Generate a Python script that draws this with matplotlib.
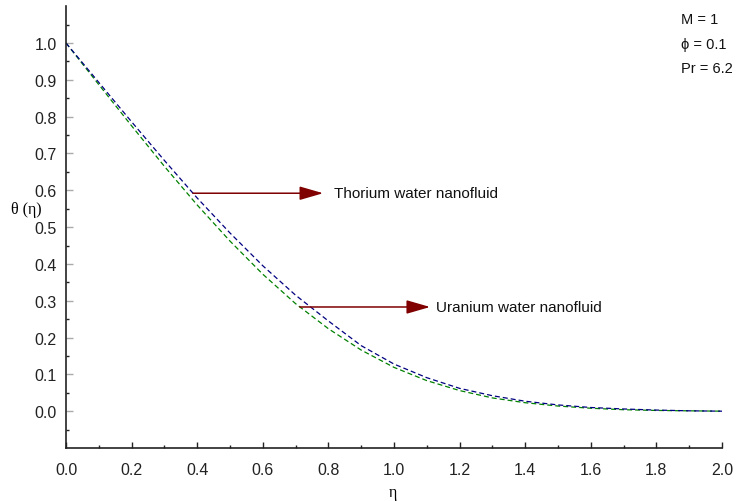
import matplotlib
matplotlib.use("Agg")
import matplotlib.pyplot as plt
from matplotlib.ticker import MultipleLocator, FixedLocator

plt.rcParams['font.family'] = ['Liberation Sans', 'DejaVu Sans']

eta = [0.0, 0.1, 0.2, 0.3, 0.4, 0.5, 0.6, 0.7, 0.8, 0.9, 1.0,
       1.1, 1.2, 1.3, 1.4, 1.5, 1.6, 1.7, 1.8, 1.9, 2.0]
theta_thorium = [1.000, 0.893, 0.786, 0.681, 0.579, 0.484, 0.395, 0.315, 0.245, 0.178, 0.128,
                 0.091, 0.062, 0.042, 0.027, 0.017, 0.010, 0.006, 0.003, 0.001, 0.000]
theta_uranium = [1.000, 0.887, 0.775, 0.665, 0.560, 0.462, 0.372, 0.292, 0.224, 0.166, 0.119,
                 0.083, 0.056, 0.036, 0.023, 0.014, 0.008, 0.004, 0.002, 0.001, 0.000]
xticks = [0.0, 0.2, 0.4, 0.6, 0.8, 1.0, 1.2, 1.4, 1.6, 1.8, 2.0]
yticks = [0.0, 0.1, 0.2, 0.3, 0.4, 0.5, 0.6, 0.7, 0.8, 0.9, 1.0]
labels = ["Thorium water nanofluid", "Uranium water nanofluid"]
params = ["M = 1", "\u03d5 = 0.1", "Pr = 6.2"]

W, H = 737, 502
fig = plt.figure(figsize=(W / 100, H / 100), dpi=100)
ax = fig.add_axes([66 / W, 1 - 449 / H, (722 - 66) / W, (449 - 7.2) / H])

ax.plot(eta, theta_uranium, color="#008000", lw=0.9, dashes=(4, 2.4))
ax.plot(eta, theta_thorium, color="#000080", lw=0.9, dashes=(4, 2.4))

ax.set_xlim(0, 2.0)
ax.set_ylim(-0.1, 1.1)

for s in ["top", "right"]:
    ax.spines[s].set_visible(False)
for s in ["left", "bottom"]:
    ax.spines[s].set_linewidth(1.2)
    ax.spines[s].set_color("#222222")

ax.set_xticks(xticks)
ax.set_xticklabels([f"{v:.1f}" for v in xticks])
ax.xaxis.set_minor_locator(MultipleLocator(0.1))
ax.set_yticks(yticks)
ax.set_yticklabels([f"{v:.1f}" for v in yticks])
ax.yaxis.set_minor_locator(FixedLocator([-0.05 + 0.1 * i for i in range(12)]))

ax.tick_params(axis="x", which="major", direction="in", length=4.5, width=1, color="#222222",
               labelsize=11.5, pad=10, labelcolor="#222222")
ax.tick_params(axis="x", which="minor", direction="in", length=2.5, width=1, color="#222222")
ax.tick_params(axis="y", which="major", direction="in", length=5, width=1, color="#aaaaaa",
               labelsize=11.5, pad=6.5, labelcolor="#222222")
ax.tick_params(axis="y", which="minor", direction="in", length=2.5, width=1, color="#222222")

arrow_kw = dict(arrowstyle="-|>,head_length=1.45,head_width=0.42", mutation_scale=10,
                color="#800000", lw=1.1, shrinkA=0, shrinkB=0)
ax.annotate("", xy=(0.784, 0.592), xytext=(0.387, 0.592), arrowprops=arrow_kw)
ax.annotate("", xy=(1.11, 0.283), xytext=(0.713, 0.283), arrowprops=arrow_kw)
ax.text(0.817, 0.592, labels[0], fontsize=11, va="center", ha="left", color="#111111")
ax.text(1.128, 0.283, labels[1], fontsize=11, va="center", ha="left", color="#111111")

for i, p in enumerate(params):
    fig.text(681 / W, 1 - (20 + 24.5 * i) / H, p, fontsize=10.5, va="center", ha="left",
             color="#111111")

fig.text(26 / W, 1 - 210 / H, "\u03b8 (\u03b7)", fontsize=11.5, va="center", ha="center",
         family=["Liberation Serif", "DejaVu Serif"])
fig.text(393 / W, 1 - 493 / H, "\u03b7", fontsize=11.5, va="center", ha="center",
         family=["Liberation Serif", "DejaVu Serif"])

fig.savefig("out.png", dpi=100)
